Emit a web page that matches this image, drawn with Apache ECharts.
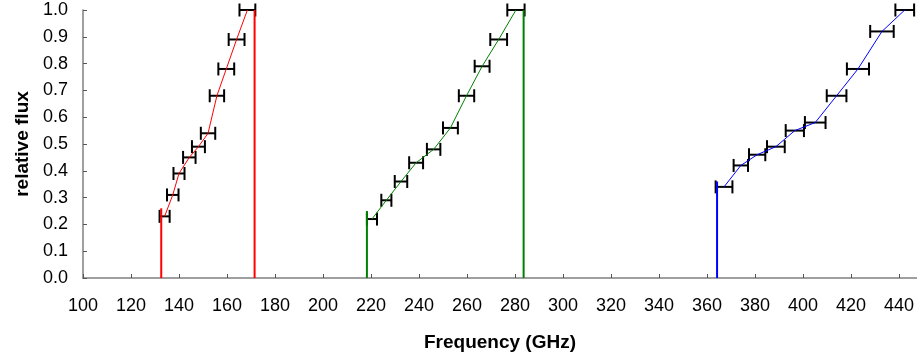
<!DOCTYPE html>
<html>
<head>
<meta charset="utf-8">
<script src="https://cdn.jsdelivr.net/npm/echarts@6/dist/echarts.min.js"></script>
<style>
  html, body { margin: 0; padding: 0; background: #fff; }
  #chart { width: 917px; height: 360px; }
</style>
</head>
<body>
<div id="chart"></div>
<script>
// band 1 (red)
var redFreq = [134.0, 137.4, 140.0, 144.3, 148.1, 152.1, 155.8, 159.7, 164.0, 168.5];
var redFlux = [0.23, 0.31, 0.39, 0.45, 0.49, 0.54, 0.68, 0.78, 0.89, 1.0];
var redErr = [2.1, 2.4, 2.3, 2.6, 2.7, 3.0, 3.0, 3.3, 3.3, 3.3];
var redEdges = [[132.6, 0.26], [171.5, 1.0]];

// band 2 (green)
var greenFreq = [220.4, 226.4, 232.5, 238.8, 246.1, 253.1, 259.8, 266.3, 273.2, 280.4];
var greenFlux = [0.22, 0.29, 0.36, 0.43, 0.48, 0.56, 0.68, 0.79, 0.89, 1.0];
var greenErr = [2.1, 2.1, 2.6, 2.9, 2.8, 3.1, 3.2, 3.1, 3.5, 3.6];
var greenEdges = [[218.3, 0.25], [283.6, 1.0]];

// band 3 (blue)
var blueFreq = [367.1, 374.1, 380.9, 388.7, 396.6, 405.1, 414.0, 422.9, 432.9, 442.4];
var blueFlux = [0.34, 0.42, 0.46, 0.49, 0.55, 0.58, 0.68, 0.78, 0.92, 1.0];
var blueErr = [3.5, 3.0, 3.4, 3.7, 3.8, 4.3, 4.1, 4.6, 4.9, 3.9];
var blueEdges = [[364.2, 0.36]];

// axis range; the picture is cut off a bit before 450
var xMin = 100, xMax = 447.5, xStep = 20;
var yMin = 0, yMax = 1, yStep = 0.1;

var bands = [
  { freq: redFreq, flux: redFlux, err: redErr, edges: redEdges, color: '#ff0000' },
  { freq: greenFreq, flux: greenFlux, err: greenErr, edges: greenEdges, color: '#008000' },
  { freq: blueFreq, flux: blueFlux, err: blueErr, edges: blueEdges, color: '#0000ff' }
];

function pts(band) {
  return band.freq.map(function (f, i) { return [f, band.flux[i]]; });
}

function errData(band) {
  return band.freq.map(function (f, i) { return [f, band.flux[i], band.err[i]]; });
}

function renderErr(params, api) {
  var x = api.value(0), y = api.value(1), e = api.value(2);
  var p1 = api.coord([x - e, y]);
  var p2 = api.coord([x + e, y]);
  var st = { stroke: '#000', lineWidth: 2 };
  return {
    type: 'group',
    children: [
      { type: 'line', shape: { x1: p1[0], y1: p1[1], x2: p2[0], y2: p2[1] }, style: st },
      { type: 'line', shape: { x1: p1[0], y1: p1[1] - 6.5, x2: p1[0], y2: p1[1] + 6.5 }, style: st },
      { type: 'line', shape: { x1: p2[0], y1: p2[1] - 6.5, x2: p2[0], y2: p2[1] + 6.5 }, style: st }
    ]
  };
}

var series = [];
bands.forEach(function (b) {
  // vertical band edges
  b.edges.forEach(function (ed) {
    series.push({
      type: 'line',
      data: [[ed[0], 0], [ed[0], ed[1]]],
      symbol: 'none',
      clip: false,
      lineStyle: { color: b.color, width: 2 },
      silent: true
    });
  });
  series.push({
    type: 'line',
    data: pts(b),
    symbol: 'none',
    clip: false,
    lineStyle: { color: b.color, width: 1 },
    silent: true
  });
  series.push({
    type: 'custom',
    data: errData(b),
    renderItem: renderErr,
    clip: false,
    z: 3,
    silent: true
  });
});

var chart = echarts.init(document.getElementById('chart'));
chart.setOption({
  animation: false,
  textStyle: { fontFamily: 'Liberation Sans, Arial, sans-serif' },
  grid: { left: 83, right: 0, top: 10, bottom: 82 },
  xAxis: {
    type: 'value',
    min: xMin,
    max: xMax,
    interval: xStep,
    name: 'Frequency (GHz)',
    nameLocation: 'middle',
    nameGap: 55,
    nameTextStyle: { fontSize: 19, fontWeight: 'bold', color: '#000' },
    axisLine: { lineStyle: { color: '#808080', width: 1.5 } },
    axisTick: { inside: true, length: 4, lineStyle: { color: '#555' } },
    axisLabel: {
      fontSize: 18,
      color: '#000',
      margin: 19,
      showMaxLabel: false,
      formatter: function (v) { return (v - xMin) % xStep === 0 ? String(v) : ''; }
    },
    splitLine: { show: false }
  },
  yAxis: {
    type: 'value',
    min: yMin,
    max: yMax,
    interval: yStep,
    name: 'relative flux',
    nameLocation: 'middle',
    nameGap: 50,
    nameTextStyle: { fontSize: 19, fontWeight: 'bold', color: '#000' },
    axisLine: { show: true, lineStyle: { color: '#808080', width: 1.5 } },
    axisTick: { show: true, inside: true, length: 4, lineStyle: { color: '#555' } },
    axisLabel: {
      fontSize: 18,
      color: '#000',
      margin: 15,
      formatter: function (v) { return v.toFixed(1); }
    },
    splitLine: { show: false }
  },
  series: series
});
</script>
</body>
</html>
